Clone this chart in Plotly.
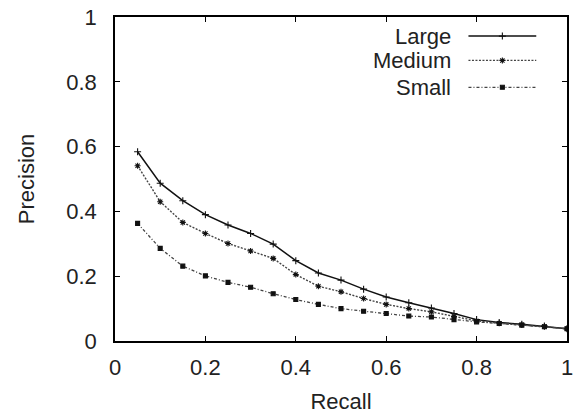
import plotly.graph_objects as go

recall = [0.05, 0.10, 0.15, 0.20, 0.25, 0.30, 0.35, 0.40, 0.45, 0.50,
          0.55, 0.60, 0.65, 0.70, 0.75, 0.80, 0.85, 0.90, 0.95, 1.00]
large = [0.584, 0.487, 0.433, 0.390, 0.358, 0.332, 0.299, 0.248, 0.210, 0.188,
         0.160, 0.136, 0.118, 0.102, 0.085, 0.066, 0.057, 0.052, 0.046, 0.038]
medium = [0.541, 0.430, 0.366, 0.332, 0.301, 0.278, 0.255, 0.205, 0.169, 0.152,
          0.131, 0.113, 0.100, 0.090, 0.076, 0.062, 0.055, 0.050, 0.045, 0.038]
small = [0.363, 0.286, 0.231, 0.201, 0.181, 0.166, 0.146, 0.128, 0.113, 0.100,
         0.092, 0.085, 0.077, 0.074, 0.066, 0.059, 0.054, 0.049, 0.044, 0.038]
series_names = ["Large", "Medium", "Small"]

styles = {
    "Large": dict(color="#111111", dash="solid", symbol="cross-thin-open", size=5, width=1.5),
    "Medium": dict(color="#444444", dash="2px,1.5px", symbol="asterisk-open", size=5, width=1.4),
    "Small": dict(color="#444444", dash="3px,2px,1px,2px", symbol="square", size=4, width=1.3),
}
values = {"Large": large, "Medium": medium, "Small": small}

fig = go.Figure()
for name in series_names:
    s = styles[name]
    fig.add_trace(go.Scatter(
        x=recall, y=values[name], mode="lines+markers", name=name,
        line=dict(color=s["color"], dash=s["dash"], width=s["width"]),
        marker=dict(symbol=s["symbol"], size=s["size"], color="#111111",
                    line=dict(color="#111111", width=1.1)),
        showlegend=False,
    ))

# manual legend (text left, sample on the right) in plot-fraction coordinates
leg_rows = [0.941, 0.866, 0.783]
for name, yy in zip(series_names, leg_rows):
    s = styles[name]
    fig.add_trace(go.Scatter(
        x=[0.782, 0.932], y=[yy, yy], mode="lines", xaxis="x2", yaxis="y2",
        line=dict(color=s["color"], dash=s["dash"], width=s["width"]),
        showlegend=False, hoverinfo="skip",
    ))
    fig.add_trace(go.Scatter(
        x=[0.857], y=[yy], mode="markers", xaxis="x2", yaxis="y2",
        marker=dict(symbol=s["symbol"], size=s["size"], color="#111111",
                    line=dict(color="#111111", width=1.1)),
        showlegend=False, hoverinfo="skip",
    ))
    fig.add_annotation(x=0.747, y=yy, xref="paper", yref="paper", text=name,
                       showarrow=False, xanchor="right", yanchor="middle",
                       font=dict(size=22, color="#222222",
                                 family="Liberation Sans, Arial, sans-serif"))

axis_common = dict(
    showline=True, linecolor="black", linewidth=1.5, mirror="ticks",
    ticks="inside", ticklen=5, tickwidth=1.3, tickcolor="black",
    showgrid=False, zeroline=False, ticklabeloverflow="allow",
    tickfont=dict(size=22, color="#222222", family="Liberation Sans, Arial, sans-serif"),
)

fig.update_layout(
    width=574, height=414,
    margin=dict(l=115, r=1, t=17, b=73),
    paper_bgcolor="white", plot_bgcolor="rgba(0,0,0,0)",
    font=dict(family="Liberation Sans, Arial, sans-serif", size=22, color="#222222"),
    xaxis=dict(range=[0, 1], tick0=0, dtick=0.2,
               title=dict(text="Recall", font=dict(size=22), standoff=14),
               ticklabelstandoff=6, **axis_common),
    yaxis=dict(range=[0, 1], tick0=0, dtick=0.2,
               title=dict(text="Precision", font=dict(size=22), standoff=26),
               ticklabelstandoff=12, **axis_common),
    xaxis2=dict(overlaying="x", range=[0, 1], visible=False),
    yaxis2=dict(overlaying="y", range=[0, 1], visible=False),
)

fig.write_html("out.html")
